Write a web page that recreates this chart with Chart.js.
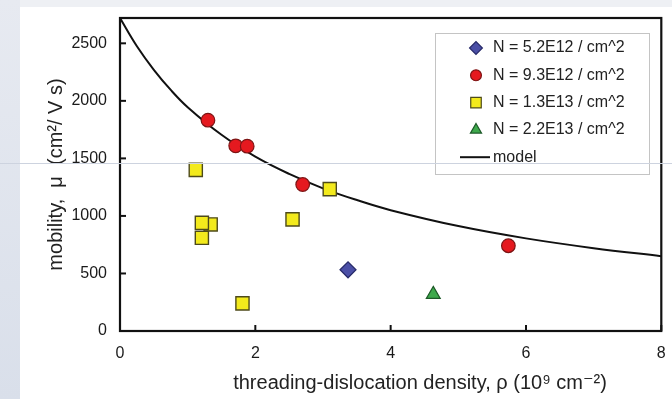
<!DOCTYPE html>
<html>
<head>
<meta charset="utf-8">
<script src="https://cdn.jsdelivr.net/npm/chart.js@4.4.1/dist/chart.umd.min.js"></script>
<style>
  html, body { margin: 0; padding: 0; background: #eceef3; }
  canvas { display: block; }
</style>
</head>
<body>
<canvas id="mobilityChart" width="672" height="399"></canvas>
<script>
// values
const legendLabels = ['N = 5.2E12 / cm^2', 'N = 9.3E12 / cm^2', 'N = 1.3E13 / cm^2', 'N = 2.2E13 / cm^2', 'model'];

const blueX = [3.37];
const blueY = [532];

const redX = [1.30, 1.71, 1.88, 2.70, 5.74];
const redY = [1832, 1609, 1606, 1273, 741];

const yellowX = [1.12, 1.34, 1.21, 1.21, 2.55, 3.10, 1.81];
const yellowY = [1400, 926, 940, 810, 970, 1233, 240];

const greenX = [4.63];
const greenY = [318];

// model curve, sampled by eye along the drawn line
const modelX = [0, 0.25, 0.5, 0.75, 1, 1.5, 2, 2.5, 3, 3.5, 4, 5, 6, 7, 8];
const modelY = [2720, 2475, 2270, 2095, 1945, 1705, 1515, 1365, 1240, 1138, 1050, 912, 805, 720, 650];

const xTicks = [0, 2, 4, 6, 8];
const yTicks = [0, 500, 1000, 1500, 2000, 2500];

const FONT = '"Liberation Sans", Arial, "DejaVu Sans", sans-serif';

const pts = (xs, ys) => xs.map((x, i) => ({ x: x, y: ys[i] }));

// background, frame, inner ticks, legend box, x title
const decor = {
    id: 'decor',
    beforeDraw(chart) {
        const c = chart.ctx;
        c.save();
        c.fillStyle = '#eef0f4';
        c.fillRect(0, 0, chart.width, chart.height);
        const g = c.createLinearGradient(0, 0, 0, chart.height);
        g.addColorStop(0, '#e7eaf1');
        g.addColorStop(1, '#d9dfea');
        c.fillStyle = g;
        c.fillRect(0, 0, 20, chart.height);
        c.fillStyle = '#ffffff';
        c.fillRect(20, 7, chart.width - 20, chart.height - 7);
        c.restore();
    },
    afterDraw(chart) {
        const c = chart.ctx;
        const a = chart.chartArea;
        const xs = chart.scales.x, ys = chart.scales.y;
        c.save();

        // frame
        c.strokeStyle = '#111';
        c.lineWidth = 2.2;
        c.strokeRect(a.left, a.top, a.right - a.left, a.bottom - a.top);

        // ticks pointing inward
        c.lineWidth = 2;
        xTicks.forEach(v => {
            const px = xs.getPixelForValue(v);
            c.beginPath(); c.moveTo(px, a.bottom); c.lineTo(px, a.bottom - 6); c.stroke();
        });
        yTicks.forEach(v => {
            const py = ys.getPixelForValue(v);
            c.beginPath(); c.moveTo(a.left, py); c.lineTo(a.left + 6, py); c.stroke();
        });

        // legend
        const bx = 435, by = 33, bw = 214, bh = 141;
        c.fillStyle = '#ffffff';
        c.fillRect(bx, by, bw, bh);
        c.strokeStyle = '#c4c4c4';
        c.lineWidth = 1;
        c.strokeRect(bx + 0.5, by + 0.5, bw, bh);
        c.font = '16px ' + FONT;
        c.textBaseline = 'middle';
        c.textAlign = 'left';
        chart.data.datasets.forEach((ds, i) => {
            const ly = 48 + i * 27.3;
            if (ds.showLine) {
                c.strokeStyle = '#111';
                c.lineWidth = 2;
                c.beginPath(); c.moveTo(460, ly); c.lineTo(490, ly); c.stroke();
            } else {
                c.fillStyle = ds.backgroundColor;
                c.strokeStyle = ds.borderColor;
                c.lineWidth = 1.2;
                Chart.helpers.drawPoint(c, {
                    pointStyle: ds.pointStyle,
                    radius: ds.pointRadius * 0.8,
                    rotation: 0,
                    borderWidth: 1.2
                }, 476, ly);
            }
            c.fillStyle = '#222';
            c.fillText(ds.label, 493, ly);
        });

        // x title
        c.font = '20px ' + FONT;
        c.textAlign = 'center';
        c.textBaseline = 'middle';
        c.fillStyle = '#222';
        c.fillText('threading-dislocation density, \u03C1 (10\u2079 cm\u207B\u00B2)', 420, 383);

        // faint scan line across the picture
        c.strokeStyle = '#cdd3df';
        c.lineWidth = 1;
        c.beginPath(); c.moveTo(0, 163.5); c.lineTo(chart.width, 163.5); c.stroke();

        c.restore();
    }
};

const ctx = document.getElementById('mobilityChart').getContext('2d');

const mobilityChart = new Chart(ctx, {
    type: 'scatter',
    data: {
        datasets: [{
            label: legendLabels[0],
            data: pts(blueX, blueY),
            pointStyle: 'rectRot',
            pointRadius: 8,
            backgroundColor: '#4b4fa6',
            borderColor: '#262968',
            borderWidth: 1.2
        }, {
            label: legendLabels[1],
            data: pts(redX, redY),
            pointStyle: 'circle',
            pointRadius: 6.8,
            backgroundColor: '#e5191f',
            borderColor: '#7d1414',
            borderWidth: 1.2
        }, {
            label: legendLabels[2],
            data: pts(yellowX, yellowY),
            pointStyle: 'rect',
            pointRadius: 9.3,
            backgroundColor: '#f3ea1c',
            borderColor: '#4d4a1a',
            borderWidth: 1.4
        }, {
            label: legendLabels[3],
            data: pts(greenX, greenY),
            pointStyle: 'triangle',
            pointRadius: 8,
            backgroundColor: '#3ea94c',
            borderColor: '#1d5a28',
            borderWidth: 1.2
        }, {
            label: legendLabels[4],
            data: pts(modelX, modelY),
            showLine: true,
            pointRadius: 0,
            borderColor: '#111',
            backgroundColor: '#111',
            borderWidth: 2,
            tension: 0.4,
            order: 10
        }]
    },
    options: {
        responsive: false,
        animation: false,
        devicePixelRatio: 1,
        layout: {
            padding: { left: 20, top: 18, right: 9, bottom: 0 }
        },
        scales: {
            x: {
                type: 'linear',
                min: 0,
                max: 8,
                afterBuildTicks: s => { s.ticks = xTicks.map(v => ({ value: v })); },
                afterFit: s => {
                    s.height = 68;
                    s.paddingLeft = 0;
                    s.paddingRight = 0;
                },
                grid: { display: false, drawTicks: false },
                border: { display: false },
                ticks: {
                    padding: 13,
                    color: '#1a1a1a',
                    font: { family: FONT, size: 16 },
                    callback: v => String(v)
                }
            },
            y: {
                type: 'linear',
                min: 0,
                max: 2720,
                afterBuildTicks: s => { s.ticks = yTicks.map(v => ({ value: v })); },
                afterFit: s => {
                    s.width = 100;
                    s.paddingTop = 0;
                    s.paddingBottom = 0;
                },
                grid: { display: false, drawTicks: false },
                border: { display: false },
                ticks: {
                    padding: 13,
                    color: '#1a1a1a',
                    font: { family: FONT, size: 16 },
                    callback: v => String(v)
                },
                title: {
                    display: true,
                    text: 'mobility,  \u03BC  (cm\u00B2/ V s)',
                    color: '#222',
                    font: { family: FONT, size: 20 },
                    padding: { top: 24, bottom: 0 }
                }
            }
        },
        plugins: {
            legend: { display: false },
            tooltip: { enabled: false }
        }
    },
    plugins: [decor]
});
</script>
</body>
</html>
